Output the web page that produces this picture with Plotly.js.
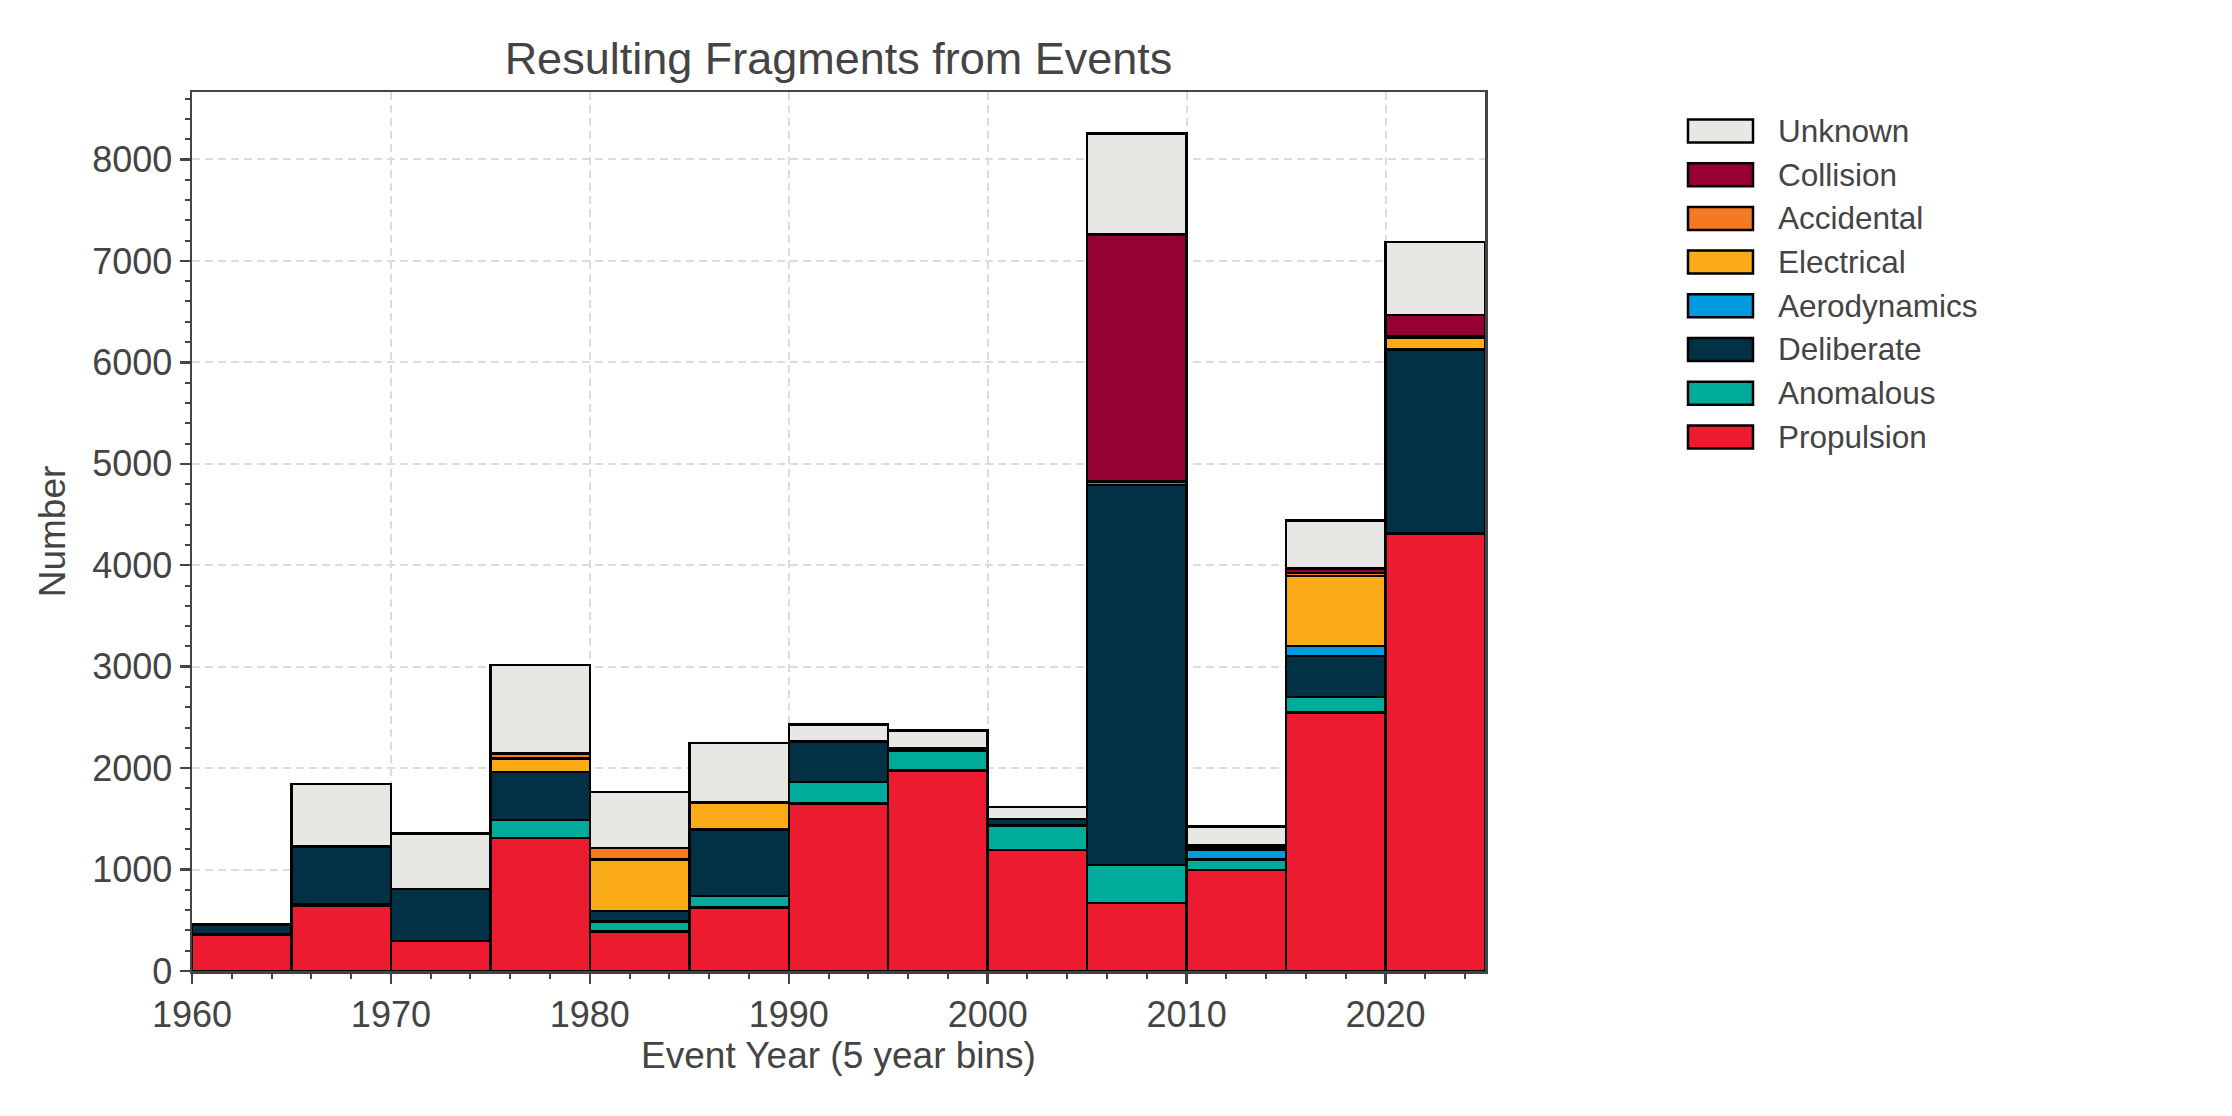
<!DOCTYPE html>
<html>
<head>
<meta charset="utf-8">
<script src="https://cdn.plot.ly/plotly-3.0.1.min.js"></script>
<style>
  html, body { margin: 0; padding: 0; background: #fff; }
  #chart { width: 2232px; height: 1116px; }
</style>
</head>
<body>
<div id="chart"></div>
<script>
// ---- Data (5-year bins, bin start year) ----
const binStarts    = [1960, 1965, 1970, 1975, 1980, 1985, 1990, 1995, 2000, 2005, 2010, 2015, 2020];
const binWidth     = 5;
const propulsion   = [360, 640, 296, 1310, 387, 625, 1652, 1975, 1192, 670, 995, 2546, 4312];
const anomalous    = [0, 15, 0, 178, 99, 112, 213, 200, 243, 375, 100, 153, 0];
const deliberate   = [100, 570, 512, 476, 105, 657, 395, 20, 62, 3745, 5, 405, 1813];
const aerodynamics = [0, 0, 0, 0, 0, 0, 0, 0, 0, 35, 92, 98, 0];
const electrical   = [0, 0, 0, 133, 509, 265, 0, 0, 0, 0, 8, 690, 120];
const accidental   = [0, 0, 0, 45, 115, 0, 0, 0, 0, 0, 8, 30, 15];
const collision    = [0, 0, 0, 0, 0, 0, 0, 0, 0, 2435, 30, 45, 206];
const unknown      = [0, 617, 549, 873, 552, 591, 170, 175, 122, 995, 185, 476, 719];

const categories = ['Propulsion', 'Anomalous', 'Deliberate', 'Aerodynamics', 'Electrical', 'Accidental', 'Collision', 'Unknown'];
const seriesValues = [propulsion, anomalous, deliberate, aerodynamics, electrical, accidental, collision, unknown];
const colors = ['#ed1b2f', '#00ab9c', '#003144', '#009bde', '#fbab18', '#f37a22', '#960034', '#e7e8e3'];

const titleText = 'Resulting Fragments from Events';
const xTitle = 'Event Year (5 year bins)';
const yTitle = 'Number';

// ---- Layout geometry (pixels) ----
const W = 2232, H = 1116;
const plotL = 192, plotR = 1485, plotT = 92, plotB = 971;
const textColor = '#444444';
const fontFamily = 'Liberation Sans, Arial, Helvetica, sans-serif';

const traces = categories.map((name, i) => ({
  type: 'bar',
  name: name,
  x: binStarts.map(b => b + binWidth / 2),
  y: seriesValues[i],
  width: binWidth,
  marker: { color: colors[i], line: { color: '#000000', width: 2.5 } },
  showlegend: false,
  hoverinfo: 'x+y+name'
}));

// ---- Custom legend (matplotlib-like wide patches) ----
const px2x = px => (px - plotL) / (plotR - plotL);
const py2y = py => (plotB - py) / (plotB - plotT);
const legShapes = [];
const legAnn = [];
const legOrder = categories.map((c, i) => i).reverse();
const boxL = 1688, boxR = 1753, boxH = 23, row0 = 131, rowStep = 43.7, textX = 1776;
legOrder.forEach((idx, r) => {
  const cy = row0 + r * rowStep;
  legShapes.push({
    type: 'rect', xref: 'paper', yref: 'paper',
    x0: px2x(boxL), x1: px2x(boxR), y0: py2y(cy + boxH / 2), y1: py2y(cy - boxH / 2),
    fillcolor: colors[idx], line: { color: '#000000', width: 2.5 }
  });
  legAnn.push({
    xref: 'paper', yref: 'paper', x: px2x(textX), y: py2y(cy),
    xanchor: 'left', yanchor: 'middle', showarrow: false,
    text: categories[idx],
    font: { family: fontFamily, size: 31.5, color: textColor }
  });
});

const axisCommon = {
  ticks: 'outside', ticklen: 10, tickwidth: 2.5, tickcolor: textColor,
  linecolor: textColor, linewidth: 2.5, mirror: true, showline: true,
  showgrid: true, gridcolor: '#dcdcdc', gridwidth: 2, griddash: '8px,5px',
  zeroline: false,
  tickfont: { family: fontFamily, size: 36, color: textColor }
};

const layout = {
  width: W, height: H,
  paper_bgcolor: '#ffffff', plot_bgcolor: '#ffffff',
  margin: { l: plotL, r: W - plotR, t: plotT, b: H - plotB, pad: 0 },
  barmode: 'stack',
  showlegend: false,
  font: { family: fontFamily, color: textColor },
  title: {
    text: titleText,
    font: { family: fontFamily, size: 45, color: textColor },
    x: 0.5, xref: 'paper', xanchor: 'center',
    y: 1 - 58 / H, yref: 'container', yanchor: 'middle'
  },
  xaxis: Object.assign({}, axisCommon, {
    range: [1960, 2025], tick0: 1960, dtick: 10,
    minor: { tick0: 1960, dtick: 2, ticks: 'outside', ticklen: 5, tickwidth: 2, tickcolor: textColor, showgrid: false },
    title: { text: xTitle, font: { family: fontFamily, size: 37, color: textColor }, standoff: 8 }
  }),
  yaxis: Object.assign({}, axisCommon, {
    range: [0, 8665], tick0: 0, dtick: 1000,
    minor: { tick0: 0, dtick: 200, ticks: 'outside', ticklen: 5, tickwidth: 2, tickcolor: textColor, showgrid: false },
    title: { text: yTitle, font: { family: fontFamily, size: 37, color: textColor }, standoff: 16 }
  }),
  shapes: legShapes,
  annotations: legAnn
};

Plotly.newPlot('chart', traces, layout, { staticPlot: true, displayModeBar: false });
</script>
</body>
</html>
